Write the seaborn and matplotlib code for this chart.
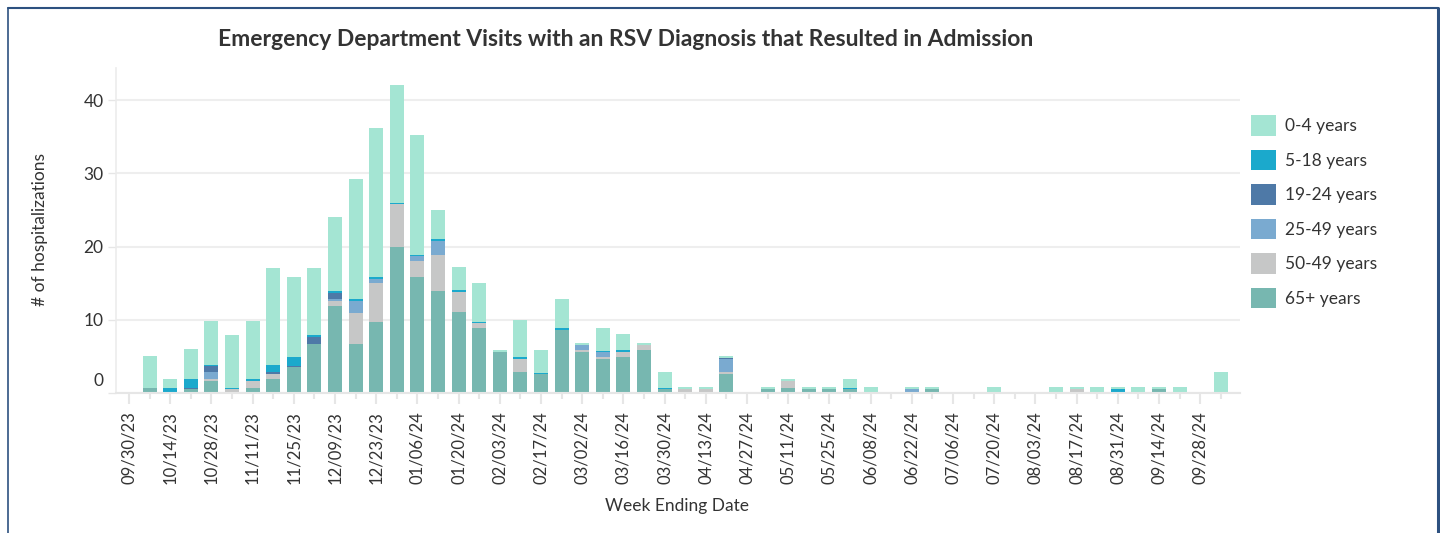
# RSV ED visits resulting in admission, stacked weekly by age group
import pandas as pd
import matplotlib
matplotlib.use("Agg")
import matplotlib.pyplot as plt
import matplotlib.transforms as mtransforms
from matplotlib.patches import Patch
from matplotlib.lines import Line2D
import seaborn as sns

# week ending dates (09/30/23 .. 10/05/24)
weeks = pd.date_range("2023-09-30", "2024-10-05", freq="7D").strftime("%m/%d/%y").tolist()

age_groups = ['0-4 years', '5-18 years', '19-24 years', '25-49 years', '50-49 years', '65+ years']
colors = ['#a4e5d3', '#1ba9cc', '#4e79a7', '#7aaad0', '#c6c7c7', '#77b7b0']

# values, one per week
age_0_4 = [0, 4.3, 1.23, 3.97, 6.1, 7.25, 7.93, 13.27, 10.94, 9.17,
           10.0, 16.28, 20.25, 16.0, 16.28, 3.97, 3.15, 5.2, 0.27, 4.97,
           3.15, 3.97, 0.27, 3.15, 2.19, 0.27, 2.2, 0.27, 0.27, 0.27,
           0, 0.27, 0.27, 0.27, 0.27, 1.23, 0.82, 0, 0.27, 0.27,
           0, 0, 0.82, 0, 0, 0.82, 0.27, 0.82, 0.27, 0.82,
           0.27, 0.82, 0, 2.9]
age_5_18 = [0, 0.1, 0.73, 1.28, 0.14, 0.12, 0.27, 1.0, 1.23, 0.27,
            0.27, 0.27, 0.27, 0.14, 0.27, 0.27, 0.27, 0.14, 0, 0.27,
            0.14, 0.27, 0, 0.14, 0.27, 0, 0.14, 0, 0, 0,
            0, 0, 0, 0, 0, 0.14, 0, 0, 0, 0,
            0, 0, 0, 0, 0, 0, 0, 0, 0.55, 0,
            0, 0, 0, 0]
age_19_24 = [0, 0, 0, 0.1, 0.73, 0, 0, 0.23, 0.14, 1.0,
             0.82, 0, 0, 0, 0, 0, 0, 0, 0, 0,
             0, 0, 0, 0, 0, 0, 0, 0, 0, 0.14,
             0, 0, 0, 0, 0, 0, 0, 0, 0, 0,
             0, 0, 0, 0, 0, 0, 0, 0, 0, 0,
             0, 0, 0, 0]
age_25_49 = [0, 0, 0, 0, 0.96, 0, 0, 0, 0, 0,
             0.27, 1.64, 0.68, 0, 0.68, 1.92, 0, 0, 0, 0,
             0, 0, 0.68, 0.68, 0, 0, 0, 0, 0, 1.78,
             0, 0, 0, 0, 0, 0, 0, 0, 0.55, 0,
             0, 0, 0, 0, 0, 0, 0, 0, 0, 0,
             0, 0, 0, 0]
age_50_64 = [0, 0, 0, 0, 0.27, 0.6, 0.96, 0.68, 0, 0,
             0.68, 4.24, 5.2, 5.88, 2.19, 4.79, 2.74, 0.68, 0, 1.78,
             0, 0, 0.27, 0.27, 0.68, 0.68, 0, 0.55, 0.55, 0.27,
             0, 0, 0.96, 0, 0, 0, 0, 0, 0, 0,
             0, 0, 0, 0, 0, 0, 0.55, 0, 0, 0,
             0, 0, 0, 0]
age_65 = [0, 0.64, 0, 0.6, 1.69, 0, 0.73, 1.96, 3.6, 6.7,
          11.95, 6.75, 9.76, 20.0, 15.78, 14.0, 11.0, 8.94, 5.65, 2.92,
          2.64, 8.66, 5.65, 4.7, 4.97, 5.93, 0.55, 0, 0, 2.6,
          0, 0.55, 0.69, 0.55, 0.55, 0.55, 0, 0, 0, 0.55,
          0, 0, 0, 0, 0, 0, 0, 0, 0, 0,
          0.55, 0, 0, 0]

series = [age_0_4, age_5_18, age_19_24, age_25_49, age_50_64, age_65]
df = pd.concat([
    pd.DataFrame({'week': range(len(weeks)), 'age': name, 'count': vals})
    for name, vals in zip(age_groups, series)
], ignore_index=True)

sns.set_style("white")
plt.rcParams['font.family'] = ['Lato', 'DejaVu Sans']
text_col = '#333333'
grid_col = '#eeeeee'

fig = plt.figure(figsize=(14.4, 5.33), dpi=100)
ax = fig.add_axes([116 / 1440, 1 - 393 / 533, (1240 - 116) / 1440, (393 - 68) / 533])

sns.histplot(
    data=df, x='week', weights='count', hue='age',
    hue_order=age_groups, palette=dict(zip(age_groups, colors)),
    multiple='stack', discrete=True, shrink=0.68,
    alpha=1, linewidth=0, edgecolor='none', legend=False, ax=ax
)

ax.set_xlim(-0.63, 53.93)
ax.set_ylim(0, 44.4)
ax.set_xlabel('')
ax.set_ylabel('')

# x ticks: labelled every two weeks, minor ticks in between
ax.set_xticks(range(0, len(weeks), 2))
ax.set_xticklabels(weeks[::2], rotation=90, fontsize=12, color=text_col)
ax.set_xticks(range(1, len(weeks), 2), minor=True)
ax.tick_params(axis='x', which='major', length=8, width=1.5, color='#e6e6e6', pad=5, bottom=True)
ax.tick_params(axis='x', which='minor', length=4, width=1.5, color='#e6e6e6', bottom=True)

ax.set_yticks([0, 10, 20, 30, 40])
ax.tick_params(axis='y', length=6, width=1, color='#e6e6e6', labelsize=12.5, labelcolor=text_col, left=True, pad=3)
zero_lab = ax.get_yticklabels()[0]
zero_lab.set_transform(zero_lab.get_transform() + mtransforms.ScaledTranslation(0, 13 / 100, fig.dpi_scale_trans))

ax.grid(axis='y', color=grid_col, linewidth=1.5)
ax.set_axisbelow(True)
for s in ['top', 'right']:
    ax.spines[s].set_visible(False)
ax.spines['left'].set_color('#ececec')
ax.spines['left'].set_linewidth(1.2)
ax.spines['bottom'].set_color('#e6e6e6')
ax.spines['bottom'].set_linewidth(1.5)

fig.text(626 / 1440, 1 - 40 / 533, 'Emergency Department Visits with an RSV Diagnosis that Resulted in Admission',
         ha='center', va='center', fontsize=16.5, fontweight='bold', color=text_col)
fig.text(40 / 1440, 1 - 230 / 533, '# of hospitalizations', rotation=90,
         ha='center', va='center', fontsize=12.5, color=text_col)
fig.text(677 / 1440, 1 - 506 / 533, 'Week Ending Date', ha='center', va='center',
         fontsize=12.5, color=text_col)

handles = [Patch(facecolor=c, edgecolor='none') for c in colors]
fig.legend(handles, age_groups, loc='upper left', bbox_to_anchor=(1251 / 1440, 1 - 115 / 533),
           frameon=False, fontsize=12.5, labelcolor=text_col, handlelength=1.45, handleheight=1.45,
           handletextpad=0.5, labelspacing=0.8, borderpad=0, borderaxespad=0)

# dashboard frame
border = '#2d5180'
fig.add_artist(Line2D([8 / 1440, 8 / 1440], [0, 1 - 8 / 533], color=border, lw=1.2, transform=fig.transFigure))
fig.add_artist(Line2D([8 / 1440, 1438 / 1440], [1 - 8 / 533, 1 - 8 / 533], color=border, lw=1.5, transform=fig.transFigure))
fig.add_artist(Line2D([1438 / 1440, 1438 / 1440], [0, 1 - 8 / 533], color=border, lw=2.2, transform=fig.transFigure))

fig.savefig('out.png', dpi=100)
